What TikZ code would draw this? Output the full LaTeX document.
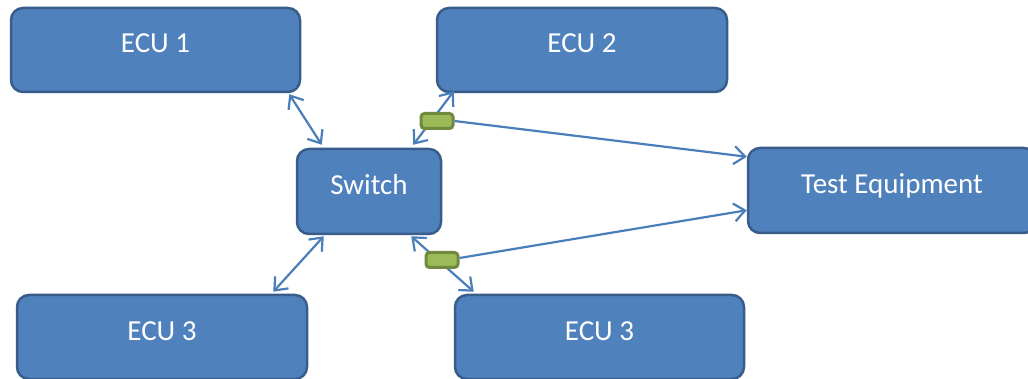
\documentclass[tikz,border=0pt]{standalone}
\usepackage{fontspec}
\setmainfont{Carlito}
\usetikzlibrary{arrows.meta}
\definecolor{boxfill}{HTML}{4F81BD}
\definecolor{boxline}{HTML}{385D8A}
\definecolor{linkcol}{HTML}{4A7EBB}
\definecolor{tapfill}{HTML}{9BBB59}
\definecolor{tapline}{HTML}{71893F}
\tikzset{
  unit/.style={draw=boxline, fill=boxfill, line width=2.5pt, rounded corners=12pt,
    minimum width=289pt, minimum height=84pt, inner sep=0pt,
    text height=22pt, text depth=16pt,
    text=white, font=\fontsize{29}{33}\selectfont},
  tap/.style={draw=tapline, fill=tapfill, line width=3pt, rounded corners=3.5pt,
    minimum width=32pt, minimum height=15pt, inner sep=0pt},
  link/.style={draw=linkcol, line width=2.2pt, {Straight Barb[length=11pt,width=18pt]}-{Straight Barb[length=11pt,width=18pt]}},
  feed/.style={draw=linkcol, line width=2.2pt, -{Straight Barb[length=11pt,width=18pt]}}
}
\begin{document}
\begin{tikzpicture}[x=1pt, y=-1pt]
\clip (0,0) rectangle (1028,379);
\fill[white] (0,0) rectangle (1028,379);

% units
\node[unit] (ecu1) at (155.5,50) {ECU 1};
\node[unit, minimum width=290pt] (ecu2) at (582,50) {ECU 2};
\node[unit, minimum width=144pt, minimum height=85pt] (sw) at (369,191.5) {Switch};
\node[unit, minimum width=288pt, minimum height=85pt] (te) at (892,190.5) {Test Equipment};
\node[unit, minimum width=290pt] (ecu3l) at (162,337) {ECU 3};
\node[unit] (ecu3r) at (599.5,337) {ECU 3};

% switch links
\draw[link] ([xshift=-12pt,yshift=-1pt]ecu1.south east) -- ([xshift=26pt,yshift=3pt]sw.north west);
\draw[link] ([xshift=-29pt,yshift=3pt]sw.north east) -- ([xshift=18pt,yshift=2pt]ecu2.south west);
\draw[link] ([xshift=28pt,yshift=-1pt]sw.south west) -- ([xshift=-35pt,yshift=2pt]ecu3l.north east);
\draw[link] ([xshift=-31pt,yshift=-1pt]sw.south east) -- ([xshift=20pt,yshift=2pt]ecu3r.north west);

% taps on the upper and lower links
\node[tap] (tap1) at (437,121) {};
\node[tap] (tap2) at (442,260) {};

% tap feeds to the test equipment
\draw[feed] (tap1.east) -- ([yshift=-10pt]te.north west);
\draw[feed] ([yshift=2pt]tap2.east) -- ([yshift=24pt]te.south west);
\end{tikzpicture}
\end{document}
